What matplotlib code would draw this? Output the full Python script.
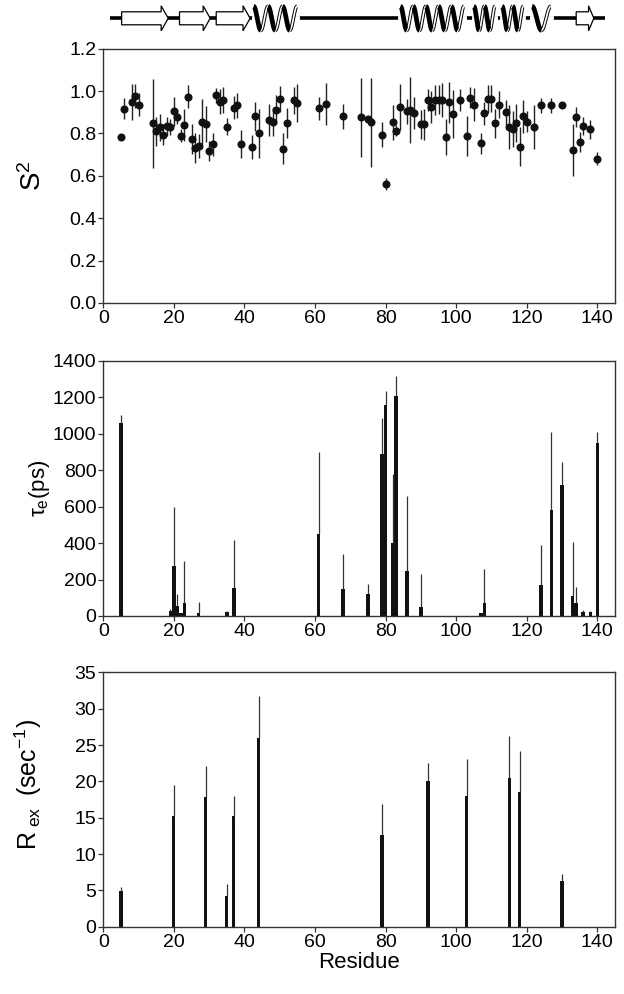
import numpy as np
import matplotlib
matplotlib.use('Agg')
import matplotlib.pyplot as plt

plt.rcParams['font.family'] = ['Liberation Sans', 'DejaVu Sans']
plt.rcParams['mathtext.fontset'] = 'custom'
plt.rcParams['mathtext.rm'] = 'Liberation Sans'
plt.rcParams['mathtext.it'] = 'Liberation Sans:italic'

# %% Data
# Order parameters
s2_res = [5, 6, 8, 9, 10, 14, 15, 16, 17, 18, 19, 20, 21, 22, 23, 24, 25, 26,
          27, 28, 29, 30, 31, 32, 33, 34, 35, 37, 38, 39, 42, 43, 44, 47, 48,
          49, 50, 51, 52, 54, 55, 61, 63, 68, 73, 75, 76, 79, 80, 82, 83, 84,
          86, 87, 88, 90, 91, 92, 93, 94, 95, 96, 97, 98, 99, 101, 103, 104,
          105, 107, 108, 109, 110, 111, 112, 114, 115, 116, 117, 118, 119,
          120, 122, 124, 127, 130, 133, 134, 135, 136, 138, 140]
s2_val = [0.784, 0.916, 0.949, 0.976, 0.936, 0.847, 0.809, 0.828, 0.794,
          0.834, 0.831, 0.905, 0.878, 0.789, 0.839, 0.974, 0.775, 0.731,
          0.742, 0.856, 0.844, 0.717, 0.748, 0.979, 0.949, 0.958, 0.832,
          0.921, 0.932, 0.750, 0.737, 0.880, 0.800, 0.863, 0.856, 0.911,
          0.963, 0.728, 0.849, 0.957, 0.943, 0.918, 0.938, 0.880, 0.875,
          0.866, 0.852, 0.794, 0.560, 0.852, 0.813, 0.925, 0.904, 0.911,
          0.897, 0.842, 0.842, 0.958, 0.925, 0.958, 0.958, 0.958, 0.784,
          0.946, 0.891, 0.958, 0.787, 0.968, 0.936, 0.753, 0.894, 0.963,
          0.963, 0.847, 0.936, 0.899, 0.830, 0.820, 0.849, 0.737, 0.880,
          0.856, 0.830, 0.932, 0.932, 0.935, 0.722, 0.879, 0.758, 0.836,
          0.819, 0.681]
s2_err = [0.0, 0.050, 0.085, 0.057, 0.053, 0.210, 0.068, 0.063, 0.051,
          0.044, 0.038, 0.069, 0.035, 0.031, 0.075, 0.053, 0.070, 0.071,
          0.057, 0.107, 0.086, 0.045, 0.056, 0.034, 0.059, 0.063, 0.039,
          0.055, 0.059, 0.067, 0.056, 0.067, 0.116, 0.075, 0.067, 0.068,
          0.060, 0.073, 0.070, 0.064, 0.090, 0.053, 0.100, 0.057, 0.188,
          0.010, 0.210, 0.060, 0.028, 0.084, 0.027, 0.108, 0.060, 0.155,
          0.075, 0.070, 0.075, 0.051, 0.075, 0.072, 0.068, 0.080, 0.086,
          0.096, 0.112, 0.052, 0.096, 0.050, 0.078, 0.049, 0.055, 0.067,
          0.063, 0.069, 0.065, 0.059, 0.102, 0.084, 0.090, 0.092, 0.077,
          0.051, 0.102, 0.035, 0.037, 0.0, 0.123, 0.047, 0.047, 0.043,
          0.045, 0.031]

# Internal correlation times (ps)
te_res = [5, 19, 20, 21, 22, 23, 27, 35, 37, 61, 68, 75, 79, 80, 82, 83, 86,
          90, 107, 108, 124, 127, 130, 133, 134, 136, 138, 140]
te_val = [1057, 29, 275, 56, 15, 69, 18, 24, 153, 452, 149, 120, 889, 1159,
          401, 1207, 246, 51, 15, 73, 169, 583, 716, 109, 73, 20, 20, 948]
te_err = [47, 12, 323, 62, 0, 233, 60, 4, 261, 450, 190, 53, 197, 77, 379,
          111, 414, 177, 0, 182, 219, 425, 131, 299, 87, 11, 9, 63]

# Exchange terms (1/s)
rex_res = [5, 20, 29, 35, 37, 44, 79, 92, 103, 115, 118, 130]
rex_val = [4.95, 15.23, 17.8, 4.22, 15.27, 25.96, 12.57, 20.08, 17.98,
           20.45, 18.53, 6.29]
rex_err = [0.47, 4.3, 4.3, 1.65, 2.7, 5.8, 4.3, 2.5, 5.1, 5.8, 5.6, 0.96]

# Secondary structure (residue ranges)
chain = (1.9, 142.3)
strands = [(5.2, 18.4), (21.6, 30.3), (32.0, 41.6), (134.0, 139.0)]
helices = [(42.6, 54.9), (84.2, 102.2), (105.0, 111.0), (113.0, 119.0),
           (121.5, 126.8)]


# %%
def style_axis(ax, ylim, yticks, fmt):
    ax.set_xlim(0, 145)
    ax.set_xticks(np.arange(0, 141, 20))
    ax.set_ylim(*ylim)
    ax.set_yticks(yticks)
    ax.set_yticklabels([fmt.format(v) for v in yticks])
    ax.tick_params(direction='out', length=3.5, width=0.9, labelsize=14,
                   color='#333333', pad=1.5)
    for sp in ax.spines.values():
        sp.set_linewidth(1.0)
        sp.set_color('#333333')


def draw_topology(ax):
    c = 18.3
    ax.plot(chain, [c, c], color='k', lw=2.6, solid_capstyle='butt', zorder=1)
    for x0, x1 in strands:
        h = min(2.0, 0.3*(x1 - x0))
        xs = [x0, x1 - h, x1 - h, x1, x1 - h, x1 - h, x0, x0]
        ys = [c - 6.5, c - 6.5, c - 12.5, c, c + 12.5, c + 6.5, c + 6.5, c - 6.5]
        ax.fill(xs, ys, facecolor='white', edgecolor='k', lw=0.9, zorder=3)
    for x0, x1 in helices:
        ax.plot([x0, x1], [c, c], color='white', lw=3.5, zorder=2)
        nturn = max(1, int(round((x1 - x0)/3.6)))
        t = np.linspace(0, nturn, 200*nturn)
        x = x0 + (x1 - x0)*t/nturn
        y = c + 12*np.sin(2*np.pi*t - np.pi/2)
        back = np.cos(2*np.pi*t - np.pi/2) < 0
        yb = np.where(back, y, np.nan)
        yf = np.where(~back, y, np.nan)
        ax.plot(x, yb, color='k', lw=2.6, zorder=3, solid_capstyle='butt')
        ax.plot(x, yb, color='white', lw=1.2, zorder=4, solid_capstyle='butt')
        ax.plot(x, yf, color='k', lw=3.4, zorder=5, solid_capstyle='butt')
    ax.set_xlim(0, 145)
    ax.set_ylim(35, 0)
    ax.axis('off')


# %%
fig = plt.figure(figsize=(6.24, 9.94), dpi=100)
left, width = 0.1655, 0.8201
ax0 = fig.add_axes([left, 1 - 35/994, width, 35/994])
ax1 = fig.add_axes([left, 0.6952, width, 0.2559])
ax2 = fig.add_axes([left, 0.3803, width, 0.2568])
ax3 = fig.add_axes([left, 0.0677, width, 0.2559])

draw_topology(ax0)

ax1.errorbar(s2_res, s2_val, yerr=s2_err, fmt='o', color='#111111',
             ecolor='#222222', elinewidth=1.0, capsize=0, markersize=4.8)
style_axis(ax1, (0, 1.2), np.arange(0, 1.21, 0.2), '{:.1f}')
ax1.set_ylabel('S$^2$', fontsize=20)
ax1.yaxis.set_label_coords(-0.11, 0.5)

ax2.bar(te_res, te_val, width=1.0, color='#111111')
ax2.errorbar(te_res, te_val, yerr=[np.zeros(len(te_err)), te_err], fmt='none',
             ecolor='#333333', elinewidth=0.9, capsize=0)
style_axis(ax2, (0, 1400), np.arange(0, 1401, 200), '{:.0f}')
ax2.set_ylabel('τ$_{\\mathrm{e}}$(ps)', fontsize=16)
ax2.yaxis.set_label_coords(-0.1, 0.5)

ax3.bar(rex_res, rex_val, width=0.9, color='#111111')
ax3.errorbar(rex_res, rex_val, yerr=[np.zeros(len(rex_err)), rex_err],
             fmt='none', ecolor='#333333', elinewidth=0.9, capsize=0)
style_axis(ax3, (0, 35), np.arange(0, 36, 5), '{:.0f}')
ax3.set_ylabel('R$_{\\ \\mathrm{ex}\\ }$ (sec$^{-1}$)', fontsize=18)
ax3.yaxis.set_label_coords(-0.115, 0.56)
ax3.set_xlabel('Residue', fontsize=16, labelpad=1)

fig.savefig('out.png', dpi=100)
